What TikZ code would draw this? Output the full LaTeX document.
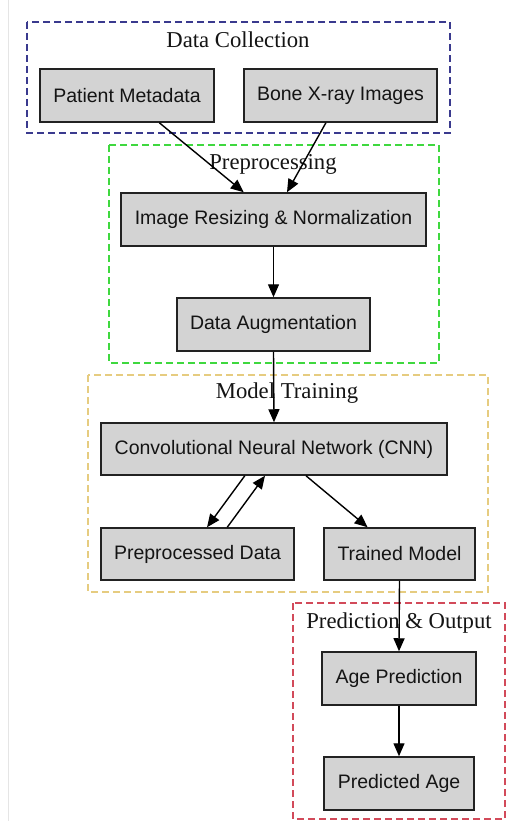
\documentclass[tikz,border=0pt]{standalone}
\usepackage{fontspec}
\setmainfont{Liberation Serif}
\newfontfamily\arialf{Liberation Sans}
\usetikzlibrary{calc,arrows.meta}
\definecolor{cnavy}{HTML}{3A3A8E}
\definecolor{cgreen}{HTML}{3FD83F}
\definecolor{cyell}{HTML}{E6CC80}
\definecolor{cred}{HTML}{D24A5A}
\definecolor{nfill}{HTML}{D3D3D3}
\definecolor{nline}{HTML}{222222}
\tikzset{
  box/.style={draw=nline, fill=nfill, line width=1.5pt, rectangle, inner sep=0pt,
    font=\arialf\fontsize{19.5}{22}\selectfont, text=black!92},
  cluster/.style={dash pattern=on 7pt off 4pt, line width=1.4pt},
  ctitle/.style={font=\fontsize{22.7}{26}\selectfont, text=black!92, inner sep=0pt},
  conn/.style={line width=1.4pt, -{Triangle[length=13pt,width=11pt]}}
}
\newcommand{\bx}[6]{\node[box, minimum width=#4pt-#3pt, minimum height=#6pt-#5pt] (#1) at ({(#3+#4)/2},{(#5+#6)/2}) {#2};}
\begin{document}
\begin{tikzpicture}[x=1pt,y=-1pt]
\useasboundingbox (0,0) rectangle (506,821);
\fill[white] (0,0) rectangle (506,821);
\draw[black!10, line width=1pt] (8.5,0) -- (8.5,821);
% clusters
\draw[cluster, cnavy] (27,22) rectangle (450,133);
\node[ctitle] (t1) at (238,39.5) {Data Collection};
\draw[cluster, cgreen] (109,145) rectangle (439,363);
\node[ctitle] (t2) at (273,164) {Preprocessing};
\draw[cluster, cyell] (88,375) rectangle (488,592);
\node[ctitle] (t3) at (287,393) {Model Training};
\draw[cluster, cred] (293,603) rectangle (505,819);
\node[ctitle] (t4) at (399,623) {Prediction \& Output};
% nodes
\bx{pm}{Patient Metadata}{40}{214}{69}{122}
\bx{bx}{Bone X-ray Images}{244}{437}{69}{122}
\bx{ir}{Image Resizing \& Normalization}{121}{426}{193}{246}
\bx{da}{Data Augmentation}{177}{370}{298}{351}
\bx{cnn}{Convolutional Neural Network (CNN)}{101}{447}{423}{475}
\bx{pd}{Preprocessed Data}{101}{294}{528}{580}
\bx{tm}{Trained Model}{324}{475}{528}{580}
\bx{ap}{Age Prediction}{322}{476}{652}{705}
\bx{pa}{Predicted Age}{324}{474}{757}{810}
% connectors
\draw[conn] ($(pm.south west)!0.684!(pm.south east)$) -- ($(ir.north west)!0.403!(ir.north east)$);
\draw[conn] ($(bx.south west)!0.425!(bx.south east)$) -- ($(ir.north west)!0.544!(ir.north east)$);
\draw[conn] (ir.south) -- (da.north);
\draw[conn] (da.south) -- (cnn.north);
\draw[conn] ($(cnn.south west)!0.416!(cnn.south east)$) -- ($(pd.north west)!0.549!(pd.north east)$);
\draw[conn] ($(pd.north west)!0.653!(pd.north east)$) -- ($(cnn.south west)!0.474!(cnn.south east)$);
\draw[conn] ($(cnn.south west)!0.592!(cnn.south east)$) -- ($(tm.north west)!0.291!(tm.north east)$);
\draw[conn] (tm.south) -- (ap.north);
\draw[conn] (ap.south) -- (pa.north);
\end{tikzpicture}
\end{document}
